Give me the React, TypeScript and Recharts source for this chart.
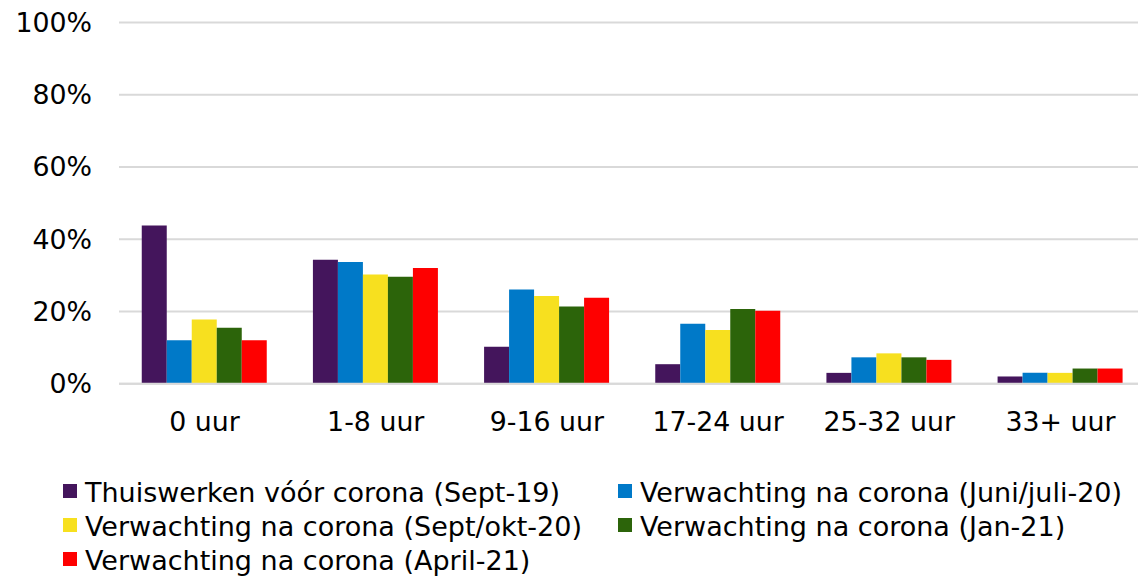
import React from "react";
import { BarChart, Bar, XAxis, YAxis, CartesianGrid, Legend } from "recharts";

const categories = ["0 uur", "1-8 uur", "9-16 uur", "17-24 uur", "25-32 uur", "33+ uur"];
const seriesNames = [
  "Thuiswerken vóór corona (Sept-19)",
  "Verwachting na corona (Juni/juli-20)",
  "Verwachting na corona (Sept/okt-20)",
  "Verwachting na corona (Jan-21)",
  "Verwachting na corona (April-21)",
];
const colors = ["#44155c", "#0079c8", "#f7e01f", "#2c640a", "#fe0000"];
const sept19 = [0.438, 0.343, 0.102, 0.054, 0.030, 0.020];
const juni20 = [0.120, 0.337, 0.261, 0.166, 0.073, 0.030];
const sept20 = [0.178, 0.302, 0.243, 0.149, 0.084, 0.030];
const jan21 = [0.155, 0.296, 0.214, 0.207, 0.073, 0.042];
const april21 = [0.120, 0.320, 0.238, 0.202, 0.066, 0.042];
const yTicks = [0, 0.2, 0.4, 0.6, 0.8, 1];

const seriesValues = [sept19, juni20, sept20, jan21, april21];
const keys = ["s0", "s1", "s2", "s3", "s4"];

const data = categories.map((c, i) => {
  const row: Record<string, string | number> = { name: c };
  keys.forEach((k, j) => {
    row[k] = seriesValues[j][i];
  });
  return row;
});

const FONT = "'DejaVu Sans', Verdana, sans-serif";

const legendLayout = [
  [0, 1],
  [2, 3],
  [4],
];
const colLeft = [63, 618];

function LegendContent() {
  return (
    <div style={{ position: "relative", width: 1138, height: 106, fontFamily: FONT, fontSize: 27, color: "#000" }}>
      {legendLayout.map((row, ri) =>
        row.map((si, ci) => (
          <div
            key={si}
            style={{
              position: "absolute",
              left: colLeft[ci],
              top: 5 + ri * 34,
              height: 34,
              display: "flex",
              alignItems: "center",
              whiteSpace: "nowrap",
            }}
          >
            <span
              style={{
                display: "inline-block",
                width: 14,
                height: 14,
                background: colors[si],
                marginRight: 8,
                marginTop: -3,
              }}
            />
            <span>{seriesNames[si]}</span>
          </div>
        ))
      )}
    </div>
  );
}

export default function App() {
  return (
    <div style={{ position: "absolute", left: 0, top: 0, width: 1138, height: 576, overflow: "hidden", background: "#fff" }}>
      <BarChart
        width={1146}
        height={576}
        data={data}
        margin={{ top: 22.5, right: 0, left: 0, bottom: 36.3 }}
        barCategoryGap={22.75}
        barGap={0}
      >
        <CartesianGrid horizontal vertical={false} stroke="#d9d9d9" strokeWidth={2} />
        <XAxis
          dataKey="name"
          height={50}
          tickLine={false}
          axisLine={{ stroke: "#d9d9d9", strokeWidth: 2 }}
          tickMargin={22}
          tick={{ fontFamily: FONT, fontSize: 26.8, fill: "#000" }}
          interval={0}
        />
        <YAxis
          width={119}
          domain={[0, 1]}
          ticks={yTicks}
          tickFormatter={(v: number) => `${Math.round(v * 100)}%`}
          tickLine={false}
          axisLine={false}
          tickMargin={21}
          tick={{ fontFamily: FONT, fontSize: 26.8, fill: "#000" }}
          interval={0}
        />
        <Legend
          content={<LegendContent />}
          wrapperStyle={{ position: "absolute", left: 0, top: 470, width: 1138, height: 106 }}
        />
        {keys.map((k, j) => (
          <Bar key={k} dataKey={k} name={seriesNames[j]} fill={colors[j]} isAnimationActive={false} />
        ))}
      </BarChart>
    </div>
  );
}
